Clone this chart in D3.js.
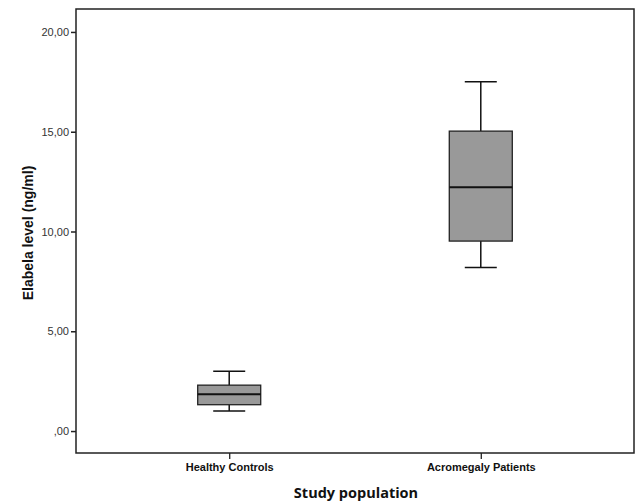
<!DOCTYPE html>
<html><head><meta charset="utf-8">
<script src="https://cdn.jsdelivr.net/npm/d3@7"></script>
<style>body{margin:0;background:#fff}</style>
</head><body><svg id="c" width="635" height="502"></svg>
<script>
const categories = ["Healthy Controls", "Acromegaly Patients"];
const whiskerLow = [1.0, 8.2];
const q1 = [1.32, 9.52];
const median = [1.84, 12.22];
const q3 = [2.3, 15.03];
const whiskerHigh = [3.0, 17.5];
const yTicks = [0, 5, 10, 15, 20];

const svg = d3.select("#c");
const L = 76, R = 634, T = 9, B = 453;
const y = d3.scaleLinear().domain([-1.1, 21.15]).range([B, T]);
const x = d3.scalePoint().domain(categories).range([L, R]).padding(0.609);
const fmt = v => d3.format(".2f")(v).replace(".", ",").replace(/^0,/, ",");

// boxes
const boxW = 63, capW = 32;
const g = svg.append("g");
categories.forEach((c, i) => {
  const cx = x(c);
  g.append("line").attr("x1", cx).attr("x2", cx).attr("y1", y(whiskerHigh[i])).attr("y2", y(q3[i])).attr("stroke", "#111").attr("stroke-width", 1.5);
  g.append("line").attr("x1", cx).attr("x2", cx).attr("y1", y(q1[i])).attr("y2", y(whiskerLow[i])).attr("stroke", "#111").attr("stroke-width", 1.5);
  g.append("line").attr("x1", cx - capW/2).attr("x2", cx + capW/2).attr("y1", y(whiskerHigh[i])).attr("y2", y(whiskerHigh[i])).attr("stroke", "#111").attr("stroke-width", 1.5);
  g.append("line").attr("x1", cx - capW/2).attr("x2", cx + capW/2).attr("y1", y(whiskerLow[i])).attr("y2", y(whiskerLow[i])).attr("stroke", "#111").attr("stroke-width", 1.5);
  g.append("rect").attr("x", cx - boxW/2).attr("width", boxW).attr("y", y(q3[i])).attr("height", y(q1[i]) - y(q3[i])).attr("fill", "#999999").attr("stroke", "#222").attr("stroke-width", 1.3);
  g.append("line").attr("x1", cx - boxW/2).attr("x2", cx + boxW/2).attr("y1", y(median[i])).attr("y2", y(median[i])).attr("stroke", "#111").attr("stroke-width", 2);
});

// frame
svg.append("rect").attr("x", L).attr("y", T).attr("width", R - L).attr("height", B - T).attr("fill", "none").attr("stroke", "#222").attr("stroke-width", 1.5);

// y axis
const ya = svg.append("g").attr("transform", `translate(${L},0)`).call(d3.axisLeft(y).tickValues(yTicks).tickFormat(fmt).tickSize(5).tickPadding(2));
ya.select(".domain").remove();
ya.selectAll("line").attr("stroke", "#222").attr("stroke-width", 1.5);
ya.selectAll("text").attr("font-family", "Arial, 'Liberation Sans', sans-serif").attr("font-size", 11).attr("fill", "#333");

// x axis
const xa = svg.append("g").attr("transform", `translate(0,${B})`).call(d3.axisBottom(x).tickSize(6).tickPadding(4));
xa.select(".domain").remove();
xa.selectAll("line").attr("stroke", "#222").attr("stroke-width", 1.3);
xa.selectAll("text").attr("font-family", "Arial, 'Liberation Sans', sans-serif").attr("font-size", 11).attr("font-weight", "bold").attr("fill", "#111");

// titles
svg.append("text").attr("x", 356).attr("y", 498).attr("text-anchor", "middle").attr("font-family", "'Open Sans', 'Noto Sans', sans-serif").attr("font-weight", "bold").attr("font-size", 14.5).attr("fill", "#111").text("Study population");
svg.append("text").attr("transform", `translate(33,${233}) rotate(-90)`).attr("text-anchor", "middle").attr("font-family", "Arial, 'Liberation Sans', sans-serif").attr("font-weight", "bold").attr("font-size", 14).attr("fill", "#111").text("Elabela level (ng/ml)");
</script></body></html>
